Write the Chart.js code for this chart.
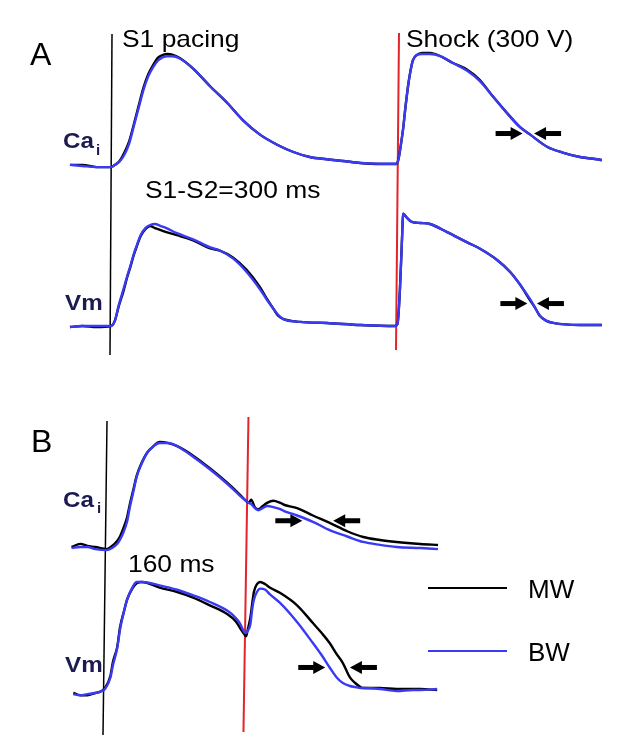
<!DOCTYPE html>
<html>
<head>
<meta charset="utf-8">
<script src="https://cdn.jsdelivr.net/npm/chart.js@4.4.1/dist/chart.umd.min.js"></script>
<style>
  html, body { margin: 0; padding: 0; background: #fff; }
  canvas { display: block; }
</style>
</head>
<body>
<canvas id="traces" width="626" height="753"></canvas>
<script>
// time in ms after S1, amplitude normalised (0 = rest, 1 = peak of S1 response)

// Panel A: S1-S2 = 300 ms
const tCaA = [-43, -30, -15, 0, 4, 9, 14, 19, 24, 29, 34, 39, 44, 49, 54, 59, 64, 72, 86, 104, 122, 138, 156, 174, 191, 208, 226, 243, 261, 282, 299,
  301, 303, 306, 308, 311, 313, 316, 320, 326, 334, 345, 358, 373, 386, 400, 415, 428, 439, 457, 473, 491, 509, 514];
const caA_MW = [0.01, 0.01, -0.01, -0.01, 0.01, 0.045, 0.12, 0.22, 0.375, 0.54, 0.70, 0.82, 0.90, 0.965, 0.99, 1.0, 0.995, 0.965, 0.87, 0.71, 0.56, 0.41, 0.28, 0.19, 0.125, 0.08, 0.06, 0.045, 0.027, 0.018, 0.018,
  0.06, 0.16, 0.34, 0.50, 0.71, 0.82, 0.94, 0.99, 1.01, 1.01, 0.98, 0.92, 0.86, 0.77, 0.62, 0.47, 0.35, 0.28, 0.17, 0.12, 0.08, 0.06, 0.054];
const caA_BW = [0.01, 0.0, -0.01, -0.01, 0.01, 0.04, 0.10, 0.20, 0.36, 0.52, 0.68, 0.80, 0.88, 0.94, 0.97, 0.98, 0.98, 0.96, 0.87, 0.71, 0.56, 0.41, 0.28, 0.19, 0.125, 0.08, 0.06, 0.045, 0.027, 0.02, 0.02,
  0.06, 0.16, 0.34, 0.50, 0.71, 0.82, 0.94, 0.99, 1.0, 1.0, 0.98, 0.92, 0.85, 0.76, 0.62, 0.47, 0.35, 0.28, 0.17, 0.12, 0.08, 0.06, 0.05];

const tVmA = [-43, -30, -15, 0, 4, 8, 13, 17, 20, 24, 27, 31, 36, 41, 46, 52, 58, 69, 86, 104, 114, 128, 142, 156, 163, 170, 175, 180, 198, 226, 261, 297,
  300, 302.5, 304.5, 306, 310, 315, 324, 334, 352, 373, 386, 404, 418, 428, 439, 444, 449, 456, 463, 491, 514];
const vmA_MW = [-0.01, 0, -0.01, 0, 0.05, 0.19, 0.34, 0.48, 0.57, 0.70, 0.78, 0.88, 0.95, 0.98, 0.96, 0.94, 0.92, 0.89, 0.84, 0.76, 0.74, 0.67, 0.55, 0.38, 0.27, 0.17, 0.10, 0.07, 0.04, 0.03, 0.01, 0,
  0.02, 0.35, 0.80, 1.10, 1.06, 1.02, 1.01, 1.0, 0.92, 0.82, 0.76, 0.65, 0.53, 0.41, 0.25, 0.18, 0.10, 0.05, 0.03, 0.01, 0.01];
const vmA_BW = [-0.01, 0, 0, 0, 0.05, 0.20, 0.36, 0.49, 0.58, 0.71, 0.79, 0.89, 0.96, 0.99, 1.0, 0.98, 0.96, 0.91, 0.85, 0.77, 0.74, 0.66, 0.53, 0.36, 0.26, 0.17, 0.11, 0.07, 0.04, 0.03, 0.01, 0,
  0.02, 0.35, 0.80, 1.10, 1.06, 1.02, 1.01, 1.0, 0.92, 0.82, 0.76, 0.65, 0.53, 0.41, 0.26, 0.18, 0.10, 0.05, 0.03, 0.01, 0.01];

// Panel B: S1-S2 = 160 ms
const tCaB = [-38, -28, -20, -11, 2, 8, 14, 17, 20, 25, 28, 32, 36, 42, 48, 55, 62, 72, 82, 100, 119, 139, 153, 160,
  163, 166, 170, 174, 179, 184, 191, 199, 204, 218, 236, 255, 275, 293, 312, 331, 358, 378];
const caB_MW = [0, 0.03, 0.01, 0, -0.02, 0.01, 0.06, 0.10, 0.16, 0.28, 0.40, 0.54, 0.68, 0.81, 0.90, 0.96, 1.0, 0.99, 0.96, 0.87, 0.75, 0.61, 0.50, 0.44,
  0.42, 0.45, 0.38, 0.36, 0.39, 0.42, 0.44, 0.42, 0.40, 0.37, 0.30, 0.23, 0.15, 0.095, 0.067, 0.048, 0.029, 0.019];
const caB_BW = [-0.01, 0, 0, -0.02, -0.03, -0.01, 0.03, 0.07, 0.12, 0.24, 0.37, 0.52, 0.67, 0.80, 0.90, 0.96, 0.99, 0.99, 0.96, 0.86, 0.74, 0.60, 0.49, 0.44,
  0.42, 0.41, 0.37, 0.35, 0.37, 0.39, 0.38, 0.36, 0.34, 0.30, 0.24, 0.16, 0.10, 0.048, 0.02, 0, -0.01, -0.02];

const tVmB = [-36, -28, -20, -11, -6, 0, 6, 9, 14, 17, 22, 25, 31, 36, 42, 62, 82, 100, 119, 139, 148, 153, 158, 160,
  162, 165, 167, 169, 172.5, 176, 182, 187, 199, 218, 236, 246, 255, 263, 270, 278, 284, 290, 293, 312, 331, 350, 358, 377];
const vmB_MW = [0, -0.02, -0.02, 0, 0.01, 0.045, 0.15, 0.28, 0.42, 0.59, 0.75, 0.84, 0.94, 0.99, 1.0, 0.95, 0.91, 0.86, 0.79, 0.71, 0.65, 0.59, 0.53, 0.51,
  0.57, 0.68, 0.80, 0.91, 0.98, 1.0, 0.98, 0.95, 0.90, 0.79, 0.63, 0.54, 0.45, 0.35, 0.27, 0.14, 0.09, 0.054, 0.045, 0.045, 0.036, 0.036, 0.036, 0.027];
const vmB_BW = [-0.01, -0.02, -0.01, 0, 0.01, 0.036, 0.135, 0.25, 0.41, 0.57, 0.75, 0.84, 0.95, 1.0, 1.0, 0.97, 0.93, 0.88, 0.82, 0.74, 0.68, 0.63, 0.55, 0.54,
  0.56, 0.62, 0.75, 0.84, 0.91, 0.94, 0.93, 0.89, 0.81, 0.64, 0.45, 0.34, 0.23, 0.14, 0.09, 0.063, 0.054, 0.045, 0.045, 0.036, 0.018, 0.027, 0.027, 0.036];

// stimulus times (ms) per panel
const stimA = [0, 300];
const stimB = [0, 160];

// arrows marking the repolarisation difference: [time of tip, value, direction]
const arrowsCaA = [[431, 0.29, 1], [443, 0.29, -1]];
const arrowsVmA = [[436, 0.22, 1], [446, 0.22, -1]];
const arrowsCaB = [[224, 0.25, 1], [259, 0.25, -1]];
const arrowsVmB = [[250, 0.23, 1], [278, 0.23, -1]];

// ---- layout ----
const W = 626, H = 753;
const BLACK = '#000000', BLUE = '#3a3af5', RED = '#e3242b', NAVY = '#1b1b52';
const FONT = '"Liberation Sans", Arial, sans-serif';

// x: pixel of S1 and pixels per ms; y: pixel of rest level and of peak
function xRange(x0, ppm) { return { min: -x0 / ppm, max: (W - x0) / ppm }; }
function yRange(base, peak) {
  const k = base - peak;
  const max = base / k;
  return { min: max - H / k, max: max };
}
const scaleXA = xRange(111, 0.955);
const scaleXB = xRange(105, 0.881);
const scaleCaA = yRange(166, 54);
const scaleVmA = yRange(326, 224);
const scaleCaB = yRange(547, 442);
const scaleVmB = yRange(693, 582);

function pts(times, vals) { return times.map((t, i) => ({ x: t, y: vals[i] })); }

function trace(label, times, vals, xId, yId, color, order) {
  return {
    label: label,
    data: pts(times, vals),
    xAxisID: xId,
    yAxisID: yId,
    showLine: true,
    borderColor: color,
    borderWidth: 2.4,
    pointRadius: 0,
    cubicInterpolationMode: 'monotone',
    order: order
  };
}

function text(ctx, str, x, y, size, opt) {
  opt = opt || {};
  ctx.save();
  ctx.font = (opt.bold ? 'bold ' : '') + size + 'px ' + FONT;
  ctx.fillStyle = opt.color || BLACK;
  ctx.textBaseline = 'alphabetic';
  ctx.translate(x, y);
  ctx.scale(opt.sx || 1, 1);
  ctx.fillText(str, 0, 0);
  ctx.restore();
}

function arrow(ctx, tipX, y, dir) {
  ctx.save();
  ctx.fillStyle = BLACK;
  ctx.fillRect(Math.min(tipX - dir * 27, tipX - dir * 11), y - 2.5, 16, 5);
  ctx.beginPath();
  ctx.moveTo(tipX, y);
  ctx.lineTo(tipX - dir * 12, y - 6.5);
  ctx.lineTo(tipX - dir * 12, y + 6.5);
  ctx.closePath();
  ctx.fill();
  ctx.restore();
}

const figurePlugin = {
  id: 'figure',
  beforeDraw(chart) {
    const ctx = chart.ctx;
    ctx.save();
    ctx.fillStyle = '#fff';
    ctx.fillRect(0, 0, chart.width, chart.height);
    ctx.restore();
  },
  beforeDatasetsDraw(chart) {
    const ctx = chart.ctx;
    const s = chart.scales;
    // stimulus lines: [x scale, time, top px, bottom px, lean px, colour, width]
    const lines = [
      [s.xA, stimA[0], 34, 355, 2, BLACK, 1.5],
      [s.xA, stimA[1], 33, 350, 3, RED, 2],
      [s.xB, stimB[0], 421, 735, 4, BLACK, 1.5],
      [s.xB, stimB[1], 417, 732, 5, RED, 2]
    ];
    lines.forEach(l => {
      const cx = l[0].getPixelForValue(l[1]);
      ctx.save();
      ctx.strokeStyle = l[5];
      ctx.lineWidth = l[6];
      ctx.beginPath();
      ctx.moveTo(cx + l[4] / 2, l[2]);
      ctx.lineTo(cx - l[4] / 2, l[3]);
      ctx.stroke();
      ctx.restore();
    });
  },
  afterDatasetsDraw(chart) {
    const ctx = chart.ctx;
    const s = chart.scales;
    [[s.xA, s.yCaA, arrowsCaA], [s.xA, s.yVmA, arrowsVmA], [s.xB, s.yCaB, arrowsCaB], [s.xB, s.yVmB, arrowsVmB]].forEach(g => {
      g[2].forEach(a => arrow(ctx, g[0].getPixelForValue(a[0]), g[1].getPixelForValue(a[1]), a[2]));
    });

    text(ctx, 'A', 30, 65, 32);
    text(ctx, 'S1 pacing', 122, 47, 24, { sx: 1.1 });
    text(ctx, 'Shock (300 V)', 406, 47, 24, { sx: 1.1 });
    text(ctx, 'S1-S2=300 ms', 145, 198, 24, { sx: 1.1 });
    text(ctx, 'Ca', 63, 148, 22, { bold: true, color: NAVY, sx: 1.1 });
    text(ctx, 'i', 96, 155, 15, { bold: true, color: NAVY });
    text(ctx, 'Vm', 65, 310, 22, { bold: true, color: NAVY, sx: 1.1 });

    text(ctx, 'B', 31, 452, 32);
    text(ctx, '160 ms', 128, 572, 24, { sx: 1.1 });
    text(ctx, 'Ca', 63, 507, 22, { bold: true, color: NAVY, sx: 1.1 });
    text(ctx, 'i', 97, 513, 15, { bold: true, color: NAVY });
    text(ctx, 'Vm', 65, 672, 22, { bold: true, color: NAVY, sx: 1.1 });

    // legend
    [[BLACK, 'MW', 588], [BLUE, 'BW', 651]].forEach(e => {
      ctx.save();
      ctx.strokeStyle = e[0];
      ctx.lineWidth = 2;
      ctx.beginPath();
      ctx.moveTo(428, e[2]);
      ctx.lineTo(507, e[2]);
      ctx.stroke();
      ctx.restore();
      text(ctx, e[1], 528, e[2] + 10, 26);
    });
  }
};

function hidden(axis, r, pos) {
  return { type: 'linear', axis: axis, position: pos, display: false, min: r.min, max: r.max };
}

new Chart(document.getElementById('traces'), {
  type: 'scatter',
  data: {
    datasets: [
      trace('BW', tCaA, caA_BW, 'xA', 'yCaA', BLUE, 1),
      trace('MW', tCaA, caA_MW, 'xA', 'yCaA', BLACK, 2),
      trace('BW', tVmA, vmA_BW, 'xA', 'yVmA', BLUE, 1),
      trace('MW', tVmA, vmA_MW, 'xA', 'yVmA', BLACK, 2),
      trace('BW', tCaB, caB_BW, 'xB', 'yCaB', BLUE, 1),
      trace('MW', tCaB, caB_MW, 'xB', 'yCaB', BLACK, 2),
      trace('BW', tVmB, vmB_BW, 'xB', 'yVmB', BLUE, 1),
      trace('MW', tVmB, vmB_MW, 'xB', 'yVmB', BLACK, 2)
    ]
  },
  options: {
    responsive: false,
    devicePixelRatio: 1,
    animation: false,
    layout: { padding: 0 },
    plugins: { legend: { display: false }, tooltip: { enabled: false } },
    scales: {
      xA: hidden('x', scaleXA, 'bottom'),
      xB: hidden('x', scaleXB, 'bottom'),
      yCaA: hidden('y', scaleCaA, 'left'),
      yVmA: hidden('y', scaleVmA, 'left'),
      yCaB: hidden('y', scaleCaB, 'left'),
      yVmB: hidden('y', scaleVmB, 'left')
    }
  },
  plugins: [figurePlugin]
});
</script>
</body>
</html>
